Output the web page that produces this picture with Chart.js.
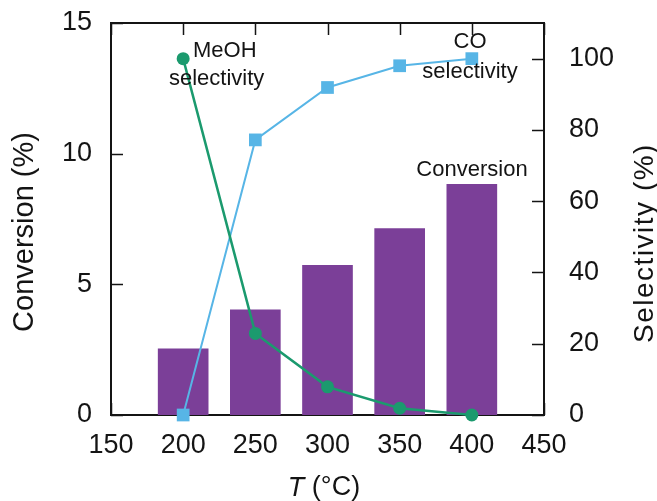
<!DOCTYPE html>
<html>
<head>
<meta charset="utf-8">
<title>Conversion and selectivity vs temperature</title>
<script src="https://cdn.jsdelivr.net/npm/chart.js@4/dist/chart.umd.min.js"></script>
<style>
    html, body { margin: 0; padding: 0; background: #ffffff; }
    canvas { display: block; }
</style>
</head>
<body>
<canvas id="conversionChart" width="657" height="501"></canvas>
<script>
// Values
const temperatures = [200, 250, 300, 350, 400];
const conversion = [2.53, 4.02, 5.73, 7.13, 8.83];
const coSelectivity = [0, 77.2, 91.9, 98.0, 100];
const meohSelectivity = [100, 22.9, 7.9, 1.9, 0];

const xTicks = [150, 200, 250, 300, 350, 400, 450];
const conversionTicks = [0, 5, 10, 15];
const selectivityTicks = [0, 20, 40, 60, 80, 100];

const FONT = '"Liberation Sans", Arial, Helvetica, sans-serif';
const INK = '#141414';
const BAR_PURPLE = '#7b3f98';
const CO_BLUE = '#57b5e6';
const MEOH_GREEN = '#1b9a6e';
const TICK_LEN = 12;

function toPoints(values) {
    return temperatures.map((t, i) => ({ x: t, y: values[i] }));
}

// pin each axis box to the size measured on the figure, no label overhang padding
function fixedSize(prop, size) {
    return (scale) => {
        scale[prop] = size;
        scale.paddingTop = 0;
        scale.paddingBottom = 0;
        scale.paddingLeft = 0;
        scale.paddingRight = 0;
    };
}

function useTicks(values) {
    return (scale) => { scale.ticks = values.map((v) => ({ value: v })); };
}

// tick marks point into the plot on all four sides
const inwardTicks = {
    id: 'inwardTicks',
    beforeDatasetsDraw(chart) {
        const { ctx, chartArea, scales } = chart;
        ctx.save();
        ctx.strokeStyle = INK;
        ctx.lineWidth = 1.5;
        ctx.beginPath();
        scales.x.ticks.forEach((tick) => {
            const px = Math.round(scales.x.getPixelForValue(tick.value)) + 0.5;
            ctx.moveTo(px, chartArea.bottom);
            ctx.lineTo(px, chartArea.bottom - TICK_LEN);
            ctx.moveTo(px, chartArea.top);
            ctx.lineTo(px, chartArea.top + TICK_LEN);
        });
        scales.y.ticks.forEach((tick) => {
            const py = Math.round(scales.y.getPixelForValue(tick.value)) + 0.5;
            ctx.moveTo(chartArea.left, py);
            ctx.lineTo(chartArea.left + TICK_LEN, py);
        });
        scales.y2.ticks.forEach((tick) => {
            const py = Math.round(scales.y2.getPixelForValue(tick.value)) + 0.5;
            ctx.moveTo(chartArea.right, py);
            ctx.lineTo(chartArea.right - TICK_LEN, py);
        });
        ctx.stroke();
        ctx.restore();
    }
};

const textLayer = {
    id: 'textLayer',
    afterDraw(chart) {
        const ctx = chart.ctx;
        ctx.save();
        ctx.fillStyle = INK;
        ctx.textBaseline = 'middle';

        // in-plot labels
        ctx.font = `22px ${FONT}`;
        ctx.textAlign = 'left';
        ctx.fillText('MeOH', 193, 51);
        ctx.fillText('selectivity', 169, 79);
        ctx.textAlign = 'center';
        ctx.fillText('CO', 470, 42);
        ctx.fillText('selectivity', 470, 72);
        ctx.fillText('Conversion', 472, 170);

        // axis titles
        ctx.font = `29px ${FONT}`;
        ctx.save();
        ctx.translate(25, 232);
        ctx.rotate(-Math.PI / 2);
        ctx.fillText('Conversion (%)', 0, 0);
        ctx.restore();

        ctx.font = `28px ${FONT}`;
        ctx.save();
        ctx.letterSpacing = '1.5px';
        ctx.translate(645, 243);
        ctx.rotate(-Math.PI / 2);
        ctx.fillText('Selectivity (%)', 0, 0);
        ctx.restore();

        ctx.textAlign = 'left';
        ctx.font = `italic 27px ${FONT}`;
        const tPart = 'T';
        const tWidth = ctx.measureText(tPart).width;
        ctx.font = `27px ${FONT}`;
        const rest = ' (°C)';
        const restWidth = ctx.measureText(rest).width;
        const startX = 324 - (tWidth + restWidth) / 2;
        ctx.font = `italic 27px ${FONT}`;
        ctx.fillText(tPart, startX, 488);
        ctx.font = `27px ${FONT}`;
        ctx.fillText(rest, startX + tWidth, 488);

        ctx.restore();
    }
};

const noGrid = { display: false, drawOnChartArea: false, drawTicks: false, offset: false };
const frame = { display: true, color: INK, width: 2 };

new Chart(document.getElementById('conversionChart'), {
    type: 'bar',
    data: {
        datasets: [
            {
                type: 'line',
                label: 'MeOH selectivity',
                data: toPoints(meohSelectivity),
                xAxisID: 'x',
                yAxisID: 'y2',
                borderColor: MEOH_GREEN,
                backgroundColor: MEOH_GREEN,
                borderWidth: 2.5,
                pointStyle: 'circle',
                pointRadius: 6.5,
                pointBorderWidth: 0,
                clip: false,
                order: 1,
            },
            {
                type: 'line',
                label: 'CO selectivity',
                data: toPoints(coSelectivity),
                xAxisID: 'x',
                yAxisID: 'y2',
                borderColor: CO_BLUE,
                backgroundColor: CO_BLUE,
                borderWidth: 2,
                pointStyle: 'rect',
                pointRadius: 9,
                pointBorderWidth: 0,
                clip: false,
                order: 2,
            },
            {
                label: 'Conversion',
                data: toPoints(conversion),
                xAxisID: 'x',
                yAxisID: 'y',
                backgroundColor: BAR_PURPLE,
                borderWidth: 0,
                barThickness: 50,
                order: 3,
            }
        ]
    },
    options: {
        responsive: false,
        animation: false,
        devicePixelRatio: 1,
        layout: { padding: 0 },
        plugins: {
            legend: { display: false },
            tooltip: { enabled: false },
        },
        scales: {
            x: {
                type: 'linear',
                position: 'bottom',
                offset: false,
                min: xTicks[0],
                max: xTicks[xTicks.length - 1],
                afterBuildTicks: useTicks(xTicks),
                ticks: { color: INK, font: { family: FONT, size: 27 }, padding: 14 },
                grid: noGrid,
                border: frame,
                afterFit: fixedSize('height', 86),
            },
            x2: {
                type: 'linear',
                position: 'top',
                offset: false,
                min: xTicks[0],
                max: xTicks[xTicks.length - 1],
                afterBuildTicks: useTicks(xTicks),
                ticks: { display: false },
                grid: noGrid,
                border: frame,
                afterFit: fixedSize('height', 23),
            },
            y: {
                type: 'linear',
                position: 'left',
                min: 0,
                max: 15,
                afterBuildTicks: useTicks(conversionTicks),
                ticks: { color: INK, font: { family: FONT, size: 27 }, padding: 19 },
                grid: noGrid,
                border: frame,
                afterFit: fixedSize('width', 111),
            },
            y2: {
                type: 'linear',
                position: 'right',
                min: 0,
                max: 110,
                afterBuildTicks: useTicks(selectivityTicks),
                ticks: { color: INK, font: { family: FONT, size: 27 }, padding: 25 },
                grid: noGrid,
                border: frame,
                afterFit: fixedSize('width', 113),
            }
        }
    },
    plugins: [inwardTicks, textLayer]
});
</script>
</body>
</html>
